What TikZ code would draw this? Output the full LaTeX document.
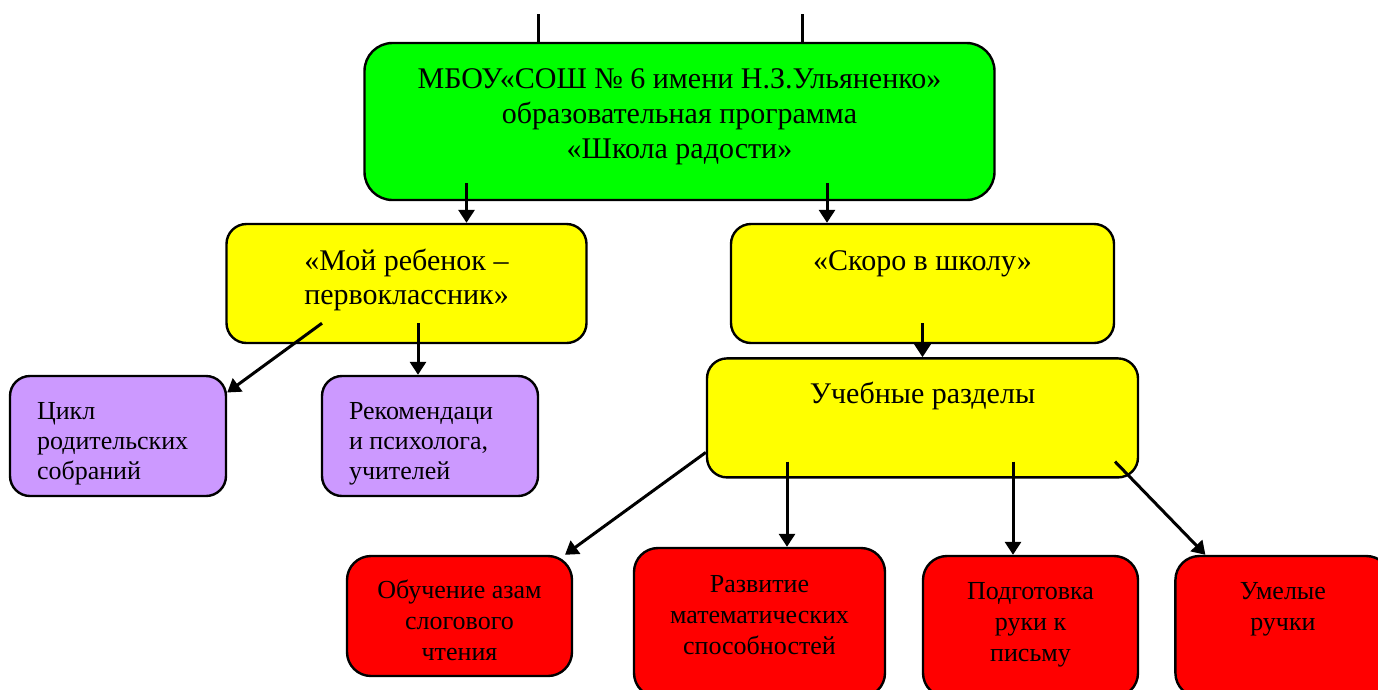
\documentclass[tikz,border=0pt]{standalone}
\usepackage{fontspec}
\setmainfont{Liberation Serif}
\usetikzlibrary{arrows.meta,positioning}

\definecolor{schoolgreen}{HTML}{00FF00}
\definecolor{progyellow}{HTML}{FFFF00}
\definecolor{formlilac}{HTML}{CC99FF}
\definecolor{partred}{HTML}{FF0000}

\newcommand{\boxtxt}[4]{\parbox[c][#2pt][t]{#1pt}{\vspace*{#3pt}#4}}

\begin{document}
\begin{tikzpicture}[x=1pt, y=-1pt,
  box/.style={draw, line width=2.4pt, inner sep=0pt, rounded corners=20pt},
  mainbox/.style={fill=schoolgreen, rounded corners=28pt, font=\fontsize{30}{35}\selectfont},
  progbox/.style={fill=progyellow, font=\fontsize{30}{34}\selectfont},
  formbox/.style={fill=formlilac, font=\fontsize{26}{30}\selectfont},
  partbox/.style={fill=partred, rounded corners=24pt, font=\fontsize{26}{31}\selectfont},
  link/.style={line width=3pt},
  arr/.style={link, -{Triangle[width=16pt,length=13pt]}}]

\useasboundingbox (0,0) rectangle (1378,689);

\node[box, mainbox] (school) at (679.5,121.5)
  {\boxtxt{630}{157}{26}{\centering МБОУ«СОШ № 6 имени Н.З.Ульяненко»\\ образовательная программа\\ «Школа радости»}};

\node[box, progbox] (child) at (406.5,283.5)
  {\boxtxt{360}{119}{25}{\centering «Мой ребенок –\\ первоклассник»}};
\node[box, progbox] (soon) at (922.5,283.5)
  {\boxtxt{383}{119}{27}{\centering «Скоро в школу»}};
\node[box, progbox, below=13pt of soon] (topics)
  {\boxtxt{431}{119}{24}{\centering Учебные разделы}};

\node[box, formbox] (meetings) at (118,436)
  {\boxtxt{216}{120}{26}{\raggedright\leftskip=27pt Цикл\\ родительских\\ собраний}};
\node[box, formbox] (advice) at (430,436)
  {\boxtxt{216}{120}{26}{\raggedright\leftskip=27pt Рекомендаци\\ и психолога,\\ учителей}};

\node[box, partbox] (reading) at (459.5,616)
  {\boxtxt{225}{120}{24}{\centering Обучение азам\\ слогового\\ чтения}};
\node[box, partbox] (maths) at (759.5,622.5)
  {\boxtxt{251}{149}{27}{\centering Развитие\\ математических\\ способностей}};
\node[box, partbox] (hand) at (1030.5,626.5)
  {\boxtxt{215}{141}{26}{\centering Подготовка\\ руки к\\ письму}};
\node[box, partbox, right=35pt of hand] (crafts)
  {\boxtxt{215}{141}{26}{\centering Умелые\\ ручки}};

\coordinate (upL) at (538,14);
\coordinate (upR) at (802,14);
\draw[link] (upL) -- (upL |- school.north);
\draw[link] (upR) -- (upR |- school.north);

\draw[arr] ([xshift=-213pt,yshift=18pt]school.south) -- ([xshift=60pt]child.north);
\draw[arr] ([xshift=147.5pt,yshift=18pt]school.south) -- ([xshift=-95.5pt]soon.north);

\draw[arr] ([xshift=-84.5pt,yshift=21pt]child.south) -- ([yshift=43.5pt]meetings.east);
\draw[arr] ([xshift=11.5pt,yshift=21pt]child.south) -- ([xshift=-12pt]advice.north);

\draw[arr] ([yshift=21pt]soon.south) -- (topics.north);

\draw[arr] ([yshift=-34.5pt]topics.west) -- ([xshift=105.5pt]reading.north);
\draw[arr] ([xshift=-135.5pt,yshift=17pt]topics.south) -- ([xshift=27.5pt]maths.north);
\draw[arr] ([xshift=90.5pt,yshift=17pt]topics.south) -- ([xshift=-17.5pt]hand.north);
\draw[arr] ([xshift=192.5pt,yshift=17pt]topics.south) -- ([xshift=-77.5pt]crafts.north);

\end{tikzpicture}
\end{document}
